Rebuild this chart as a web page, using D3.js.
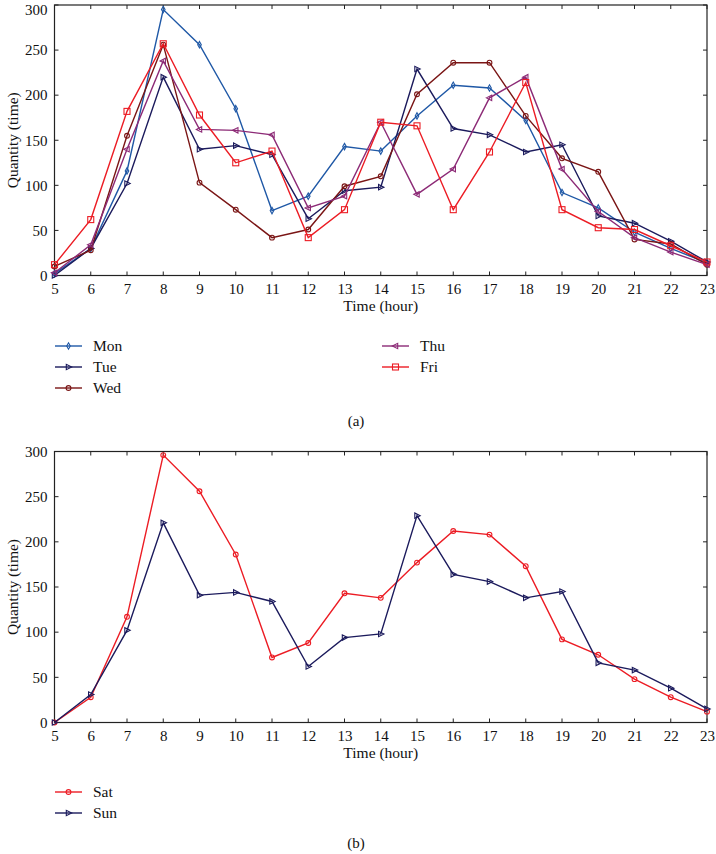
<!DOCTYPE html>
<html><head><meta charset="utf-8">
<script src="https://cdn.jsdelivr.net/npm/d3@7"></script>
<style>body{margin:0;background:#fff}svg{display:block}text{font-family:"Liberation Serif","Times New Roman",serif;fill:#111}</style>
</head><body>
<svg id="c" width="716" height="854"></svg>
<script>
const hours = [5,6,7,8,9,10,11,12,13,14,15,16,17,18,19,20,21,22,23];
const yTicks = [0,50,100,150,200,250,300];
const mon = [2,30,116,295,256,185,72,88,143,138,177,211,208,172,92,75,48,30,14];
const tue = [0,30,102,220,140,144,134,63,94,98,229,163,156,137,145,66,58,38,15];
const wed = [10,28,155,256,103,73,42,51,99,110,201,236,236,177,130,115,40,35,12];
const thu = [3,34,140,238,162,161,156,75,88,170,90,118,197,220,118,71,42,26,12];
const fri = [12,62,182,257,178,125,138,42,73,170,166,73,137,214,73,53,51,33,15];
const sat = [0,28,117,296,256,186,72,88,143,138,177,212,208,173,92,75,48,28,12];
const sun = [0,31,102,221,141,144,134,62,94,98,229,164,156,138,145,66,58,38,15];

const topSeries = [
  {name:"Mon", values:mon, color:"#1f58a6", marker:"diamond"},
  {name:"Tue", values:tue, color:"#1b1a5c", marker:"triRight"},
  {name:"Wed", values:wed, color:"#7a1515", marker:"circle"},
  {name:"Thu", values:thu, color:"#8c2a76", marker:"triLeft"},
  {name:"Fri", values:fri, color:"#ec1c24", marker:"square"}
];
const botSeries = [
  {name:"Sat", values:sat, color:"#ec1c24", marker:"circle"},
  {name:"Sun", values:sun, color:"#1b1a5c", marker:"triRight"}
];

const svg = d3.select("#c");

function drawMarker(g, type, x, y, color){
  const s = 2.7;
  let el;
  if(type==="diamond") el = g.append("path").attr("d",`M${x},${y-s-0.5}L${x+s-0.9},${y}L${x},${y+s+0.5}L${x-s+0.9},${y}Z`);
  else if(type==="triRight") el = g.append("path").attr("d",`M${x+s+0.5},${y}L${x-s+0.5},${y-s}L${x-s+0.5},${y+s}Z`);
  else if(type==="triLeft") el = g.append("path").attr("d",`M${x-s-0.5},${y}L${x+s-0.5},${y-s}L${x+s-0.5},${y+s}Z`);
  else if(type==="circle") el = g.append("circle").attr("cx",x).attr("cy",y).attr("r",2.4);
  else if(type==="square") el = g.append("rect").attr("x",x-3).attr("y",y-3).attr("width",6).attr("height",6);
  el.attr("fill","none").attr("stroke",color).attr("stroke-width",1.1);
}

function panel(top, bottom, series, legendPos, tag, tagY, nudgeTop){
  const left = 54.5, right = 707;
  const x = d3.scaleLinear().domain([5,23]).range([left,right]);
  const y = d3.scaleLinear().domain([0,300]).range([bottom,top]);
  const g = svg.append("g");
  const tl = 4;
  const ax = d3.axisBottom(x).tickValues(hours).tickSize(0).tickPadding(8).tickFormat(d3.format("d"));
  const gx = g.append("g").attr("transform",`translate(0,${bottom})`).call(ax);
  gx.select(".domain").remove();
  gx.selectAll("text").style("font-size","15px").attr("fill","#111");
  const ay = d3.axisLeft(y).tickValues(yTicks).tickSize(0).tickPadding(7);
  const gy = g.append("g").attr("transform",`translate(${left},0)`).call(ay);
  gy.select(".domain").remove();
  gy.selectAll("text").style("font-size","15px").attr("fill","#111");
  if(nudgeTop) gy.selectAll("text").filter(d=>d===300).attr("dy","0.6em");
  hours.forEach(h=>{
    g.append("line").attr("x1",x(h)).attr("x2",x(h)).attr("y1",bottom).attr("y2",bottom-tl).attr("stroke","#222");
    g.append("line").attr("x1",x(h)).attr("x2",x(h)).attr("y1",top).attr("y2",top+tl).attr("stroke","#222");
  });
  yTicks.forEach(v=>{
    g.append("line").attr("x1",left).attr("x2",left+tl).attr("y1",y(v)).attr("y2",y(v)).attr("stroke","#222");
    g.append("line").attr("x1",right).attr("x2",right-tl).attr("y1",y(v)).attr("y2",y(v)).attr("stroke","#222");
  });
  g.append("rect").attr("x",left).attr("y",top).attr("width",right-left).attr("height",bottom-top)
    .attr("fill","none").attr("stroke","#222").attr("stroke-width",1.2);
  const line = d3.line().x((d,i)=>x(hours[i])).y(d=>y(d));
  series.forEach(s=>{
    g.append("path").datum(s.values).attr("d",line).attr("fill","none").attr("stroke",s.color).attr("stroke-width",1.4);
    s.values.forEach((v,i)=>drawMarker(g,s.marker,x(hours[i]),y(v),s.color));
  });
  g.append("text").attr("x",(left+right)/2).attr("y",bottom+35).attr("text-anchor","middle").style("font-size","15.5px").text("Time (hour)");
  g.append("text").attr("transform",`translate(18,${(top+bottom)/2}) rotate(-90)`).attr("text-anchor","middle").style("font-size","15.5px").text("Quantity (time)");
  series.forEach((s,i)=>{
    const p = legendPos[i];
    g.append("line").attr("x1",p[0]).attr("x2",p[0]+27).attr("y1",p[1]).attr("y2",p[1]).attr("stroke",s.color).attr("stroke-width",1.4);
    drawMarker(g,s.marker,p[0]+13.5,p[1],s.color);
    g.append("text").attr("x",p[0]+38).attr("y",p[1]+5).style("font-size","15.5px").text(s.name);
  });
  g.append("text").attr("x",356).attr("y",tagY).attr("text-anchor","middle").style("font-size","15px").text(tag);
}

panel(5, 275.5, topSeries, [[55,346],[55,367],[55,388],[382,346],[382,367]], "(a)", 426, true);
panel(451.5, 722.5, botSeries, [[55,792],[55,813]], "(b)", 848, false);
</script>
</body></html>
